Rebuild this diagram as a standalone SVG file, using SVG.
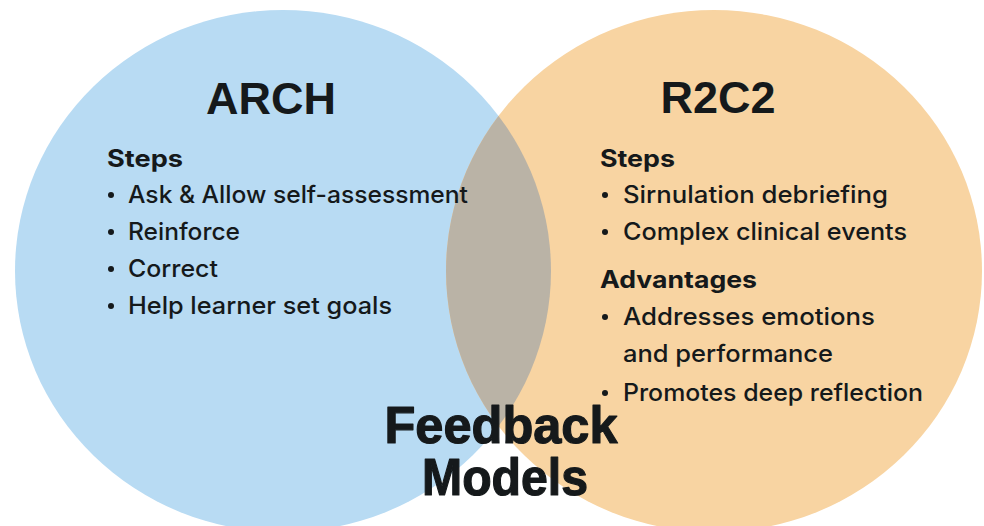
<svg xmlns="http://www.w3.org/2000/svg" width="984" height="526" viewBox="0 0 984 526">
  <style>
    .title { font-family: "Liberation Sans", Arial, sans-serif; font-weight: 700; fill: #15191b; }
    .heavy { stroke: #15191b; stroke-width: 1.2; stroke-linejoin: round; }
    .head { font-family: Inter, "Noto Sans", sans-serif; font-weight: 700; font-size: 24px; fill: #15191b; }
    .item { font-family: Inter, "Noto Sans", sans-serif; font-weight: 500; font-size: 24px; fill: #15191b; }
    .dot { fill: #15191b; }
  </style>
  <defs>
    <ellipse id="shapeArch" cx="283" cy="271" rx="268" ry="261"/>
    <ellipse id="shapeR2c2" cx="714" cy="271" rx="268" ry="261"/>
    <clipPath id="clipR2c2">
      <use href="#shapeR2c2"/>
    </clipPath>
  </defs>

  <rect width="984" height="526" fill="#ffffff"/>

  <!-- ARCH set -->
  <g id="arch">
    <use href="#shapeArch" fill="#b8dbf3"/>
  </g>

  <!-- R2C2 set -->
  <g id="r2c2">
    <use href="#shapeR2c2" fill="#f8d4a2"/>
  </g>

  <!-- shared region of both sets -->
  <g id="overlap">
    <use href="#shapeArch" fill="#bab3a6" clip-path="url(#clipR2c2)"/>
  </g>

  <!-- ARCH labels -->
  <g id="arch-text">
    <text class="title" x="271" y="114" font-size="45" text-anchor="middle">ARCH</text>
    <text class="head" x="107" y="167" textLength="76" lengthAdjust="spacingAndGlyphs">Steps</text>
    <circle class="dot" cx="111" cy="195" r="3"/>
    <text class="item" x="128" y="203" textLength="340" lengthAdjust="spacingAndGlyphs">Ask &amp; Allow self-assessment</text>
    <circle class="dot" cx="111" cy="232" r="3"/>
    <text class="item" x="128" y="240" textLength="112" lengthAdjust="spacingAndGlyphs">Reinforce</text>
    <circle class="dot" cx="111" cy="269" r="3"/>
    <text class="item" x="128" y="277" textLength="90" lengthAdjust="spacingAndGlyphs">Correct</text>
    <circle class="dot" cx="111" cy="306" r="3"/>
    <text class="item" x="128" y="314" textLength="264" lengthAdjust="spacingAndGlyphs">Help learner set goals</text>
  </g>

  <!-- R2C2 labels -->
  <g id="r2c2-text">
    <text class="title" x="718" y="113" font-size="45" text-anchor="middle">R2C2</text>
    <text class="head" x="600" y="167" textLength="75" lengthAdjust="spacingAndGlyphs">Steps</text>
    <circle class="dot" cx="605" cy="195" r="3"/>
    <text class="item" x="623" y="203" textLength="265" lengthAdjust="spacingAndGlyphs">Sirnulation debriefing</text>
    <circle class="dot" cx="605" cy="232" r="3"/>
    <text class="item" x="623" y="240" textLength="284" lengthAdjust="spacingAndGlyphs">Complex clinical events</text>
    <text class="head" x="600" y="288" textLength="157" lengthAdjust="spacingAndGlyphs">Advantages</text>
    <circle class="dot" cx="605" cy="317" r="3"/>
    <text class="item" x="623" y="325" textLength="252" lengthAdjust="spacingAndGlyphs">Addresses emotions</text>
    <text class="item" x="623" y="362" textLength="210" lengthAdjust="spacingAndGlyphs">and performance</text>
    <circle class="dot" cx="605" cy="393" r="3"/>
    <text class="item" x="623" y="401" textLength="300" lengthAdjust="spacingAndGlyphs">Promotes deep reflection</text>
  </g>

  <!-- centre caption -->
  <g id="caption">
    <text class="title heavy" x="501" y="443" font-size="52" text-anchor="middle" textLength="233" lengthAdjust="spacingAndGlyphs">Feedback</text>
    <text class="title heavy" x="505" y="495" font-size="52" text-anchor="middle" textLength="166" lengthAdjust="spacingAndGlyphs">Models</text>
  </g>
</svg>
